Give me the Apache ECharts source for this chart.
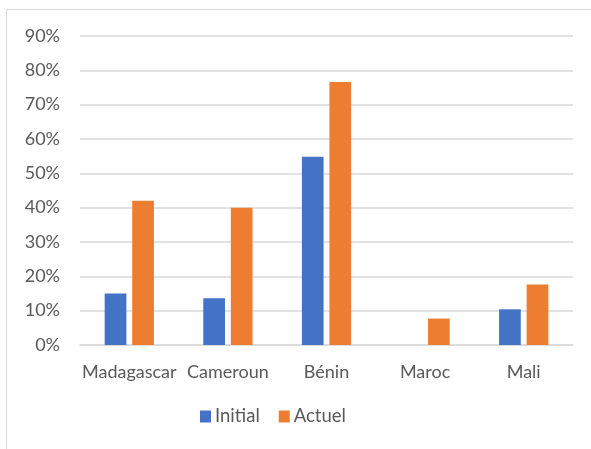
<!DOCTYPE html>
<html>
<head>
<meta charset="utf-8">
<script src="https://cdn.jsdelivr.net/npm/echarts@6/dist/echarts.min.js"></script>
<style>
  html, body { margin: 0; padding: 0; background: #ffffff; }
  #chart { width: 591px; height: 449px; }
</style>
</head>
<body>
<div id="chart"></div>
<script>
// Countries on the category axis
const categories = ['Madagascar', 'Cameroun', 'Bénin', 'Maroc', 'Mali'];
// Share per country, as fractions of 1
const initialValues = [0.150, 0.136, 0.548, null, 0.104];
const actuelValues  = [0.420, 0.400, 0.766, 0.077, 0.176];
// Value-axis range and step
const yMax = 0.9;
const yStep = 0.1;

const textColor = '#595959';
const fontFamily = 'Lato, "Open Sans", sans-serif';

const chart = echarts.init(document.getElementById('chart'), null, { renderer: 'canvas' });

chart.setOption({
  animation: false,
  backgroundColor: '#ffffff',
  graphic: [{
    type: 'rect',
    shape: { x: 6.5, y: 9.5, width: 600, height: 460 },
    style: { fill: 'none', stroke: '#d9d9d9', lineWidth: 1 },
    silent: true
  }],
  grid: { left: 80, right: 18, top: 36, bottom: 104, containLabel: false },
  legend: {
    left: 200,
    top: 407,
    padding: 0,
    itemWidth: 11,
    itemHeight: 12,
    itemGap: 19,
    icon: 'rect',
    textStyle: { color: textColor, fontSize: 18.5, fontFamily: fontFamily, padding: [0, 0, 0, -1] },
    data: ['Initial', 'Actuel']
  },
  xAxis: {
    type: 'category',
    data: categories,
    axisLine: { show: true, lineStyle: { color: '#d9d9d9', width: 1.5 } },
    axisTick: { show: false },
    axisLabel: { color: textColor, fontSize: 18, fontFamily: fontFamily, margin: 18, interval: 0 }
  },
  yAxis: {
    type: 'value',
    min: 0,
    max: yMax,
    interval: yStep,
    axisLine: { show: false },
    axisTick: { show: false },
    splitLine: { lineStyle: { color: '#d9d9d9', width: 1.5 } },
    axisLabel: {
      color: textColor, fontSize: 18, fontFamily: fontFamily, margin: 20,
      formatter: v => Math.round(v * 100) + '%'
    }
  },
  series: [
    {
      name: 'Initial', type: 'bar', data: initialValues,
      barWidth: '22%', barGap: '27%',
      itemStyle: { color: '#4472c4' }
    },
    {
      name: 'Actuel', type: 'bar', data: actuelValues,
      barWidth: '22%', barGap: '27%',
      itemStyle: { color: '#ed7d31' }
    }
  ]
});
</script>
</body>
</html>
